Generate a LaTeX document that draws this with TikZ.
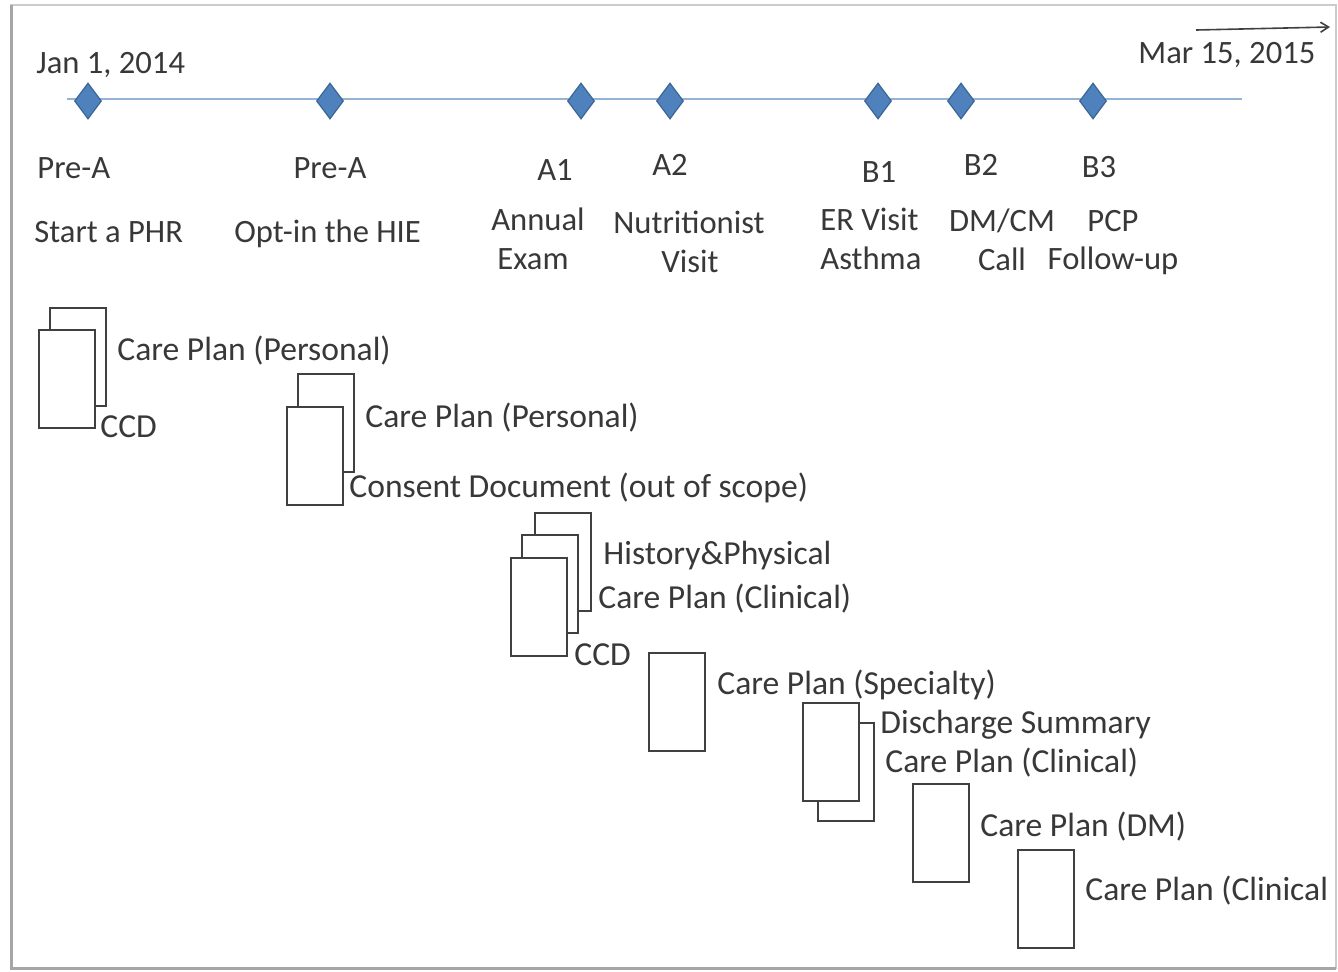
\documentclass[tikz,border=0pt]{standalone}
\usepackage{fontspec}
\setmainfont{Carlito}
\usepackage{tikz}
\usetikzlibrary{arrows.meta,shapes.geometric}
\definecolor{tlblue}{HTML}{95B3D7}
\definecolor{msblue}{HTML}{4F81BD}
\definecolor{msedge}{HTML}{3A6594}
\definecolor{inkgray}{HTML}{383838}

\begin{document}
\begin{tikzpicture}[x=0.5pt, y=-0.5pt,
    every node/.style={inner sep=0pt, text=inkgray, font=\fontsize{16.3}{20}\selectfont},
    milestone/.style={diamond, draw=msedge, fill=msblue, line width=0.6pt,
                      minimum width=13.5pt, minimum height=18pt},
    doc/.style={rectangle, draw=black!75, fill=white, line width=1pt,
                minimum width=28pt, minimum height=49pt, anchor=north west},
    lbl/.style={anchor=base west},
    doclbl/.style={anchor=base west, font=\fontsize{16.8}{20}\selectfont},
    evt/.style={anchor=base}]
  \useasboundingbox (0,0) rectangle (1338,971);
  % the frame round the picture, shadow on the left and at the foot
  \draw[black!20, line width=0.8pt] (11,5) rectangle (1336,968);
  \draw[black!35, line width=1.5pt] (11,5) -- (11,968) -- (1336,968);
  % the time line, start and end
  \coordinate (tl0) at (67,99);
  \coordinate (tl1) at (1242,99);
  \draw[tlblue, line width=1.1pt] (tl0) -- (tl1);
  \node[lbl] (start) at (36,73) {Jan 1, 2014};
  \node[lbl] (stop) at (1138,63) {Mar 15, 2015};
  \coordinate (ar0) at (1196,30);
  \coordinate (ar1) at (1330,27);
  \draw[black!75, line width=0.8pt, -{Straight Barb[length=4pt,width=5pt]}] (ar0) -- (ar1);
  % milestones on the line
  \foreach \x/\n in {88/pa1, 330/pa2, 581/a1, 670/a2, 878/b1, 961/b2, 1093/b3}
    \node[milestone] (\n) at (\x,101) {};
  % what each milestone is
  \node[lbl] (pa1code) at (37,178) {Pre-A};
  \node[evt] (pa2code) at (330,178) {Pre-A};
  \node[evt] (a1code) at (555,180) {A1};
  \node[evt] (a2code) at (670,175) {A2};
  \node[evt] (b1code) at (879,182) {B1};
  \node[evt] (b2code) at (981,175) {B2};
  \node[evt] (b3code) at (1099,177) {B3};
  \node[lbl] (pa1txt) at (34,242) {Start a PHR};
  \node[lbl] (pa2txt) at (234,242) {Opt-in the HIE};
  \node[evt] (a1txt) at (538,230) {Annual};
  \node[evt] (a1txtb) at (533,269) {Exam};
  \node[evt] (a2txt) at (689,233) {Nutritionist};
  \node[evt] (a2txtb) at (690,272) {Visit};
  \node[lbl] (b1txt) at (820,230) {ER Visit};
  \node[lbl] (b1txtb) at (820,269) {Asthma};
  \node[evt] (b2txt) at (1002,231) {DM/CM};
  \node[evt] (b2txtb) at (1002,270) {Call};
  \node[evt] (b3txt) at (1113,231) {PCP};
  \node[evt] (b3txtb) at (1113,269) {Follow-up};
  % documents sent at each step, back sheet first
  \node[doc] (pa1back) at (49,307) {};
  \node[doc] (pa1front) at (38,329) {};
  \node[doclbl] at (117,360) {Care Plan (Personal)};
  \node[doclbl] at (100,437) {CCD};
  \node[doc] (pa2back) at (297,373) {};
  \node[doc] (pa2front) at (286,406) {};
  \node[doclbl] at (365,427) {Care Plan (Personal)};
  \node[doclbl] at (349,497) {Consent Document (out of scope)};
  \node[doc] (a1back) at (534,512) {};
  \node[doc] (a1mid) at (521,534) {};
  \node[doc] (a1front) at (510,557) {};
  \node[doclbl] at (603,564) {History\&Physical};
  \node[doclbl] at (598,608) {Care Plan (Clinical)};
  \node[doclbl] at (574,665) {CCD};
  \node[doc] (a2doc) at (648,652) {};
  \node[doclbl] at (717,694) {Care Plan (Specialty)};
  \node[doc] (b1back) at (817,722) {};
  \node[doc] (b1front) at (802,702) {};
  \node[doclbl] at (880,733) {Discharge Summary};
  \node[doclbl] at (885,772) {Care Plan (Clinical)};
  \node[doc] (b2doc) at (912,783) {};
  \node[doclbl] at (980,836) {Care Plan (DM)};
  \node[doc] (b3doc) at (1017,849) {};
  \begin{scope}
    \clip (0,0) rectangle (1327,971);
    \node[doclbl] at (1085,900) {Care Plan (Clinical)};
  \end{scope}
\end{tikzpicture}
\end{document}
